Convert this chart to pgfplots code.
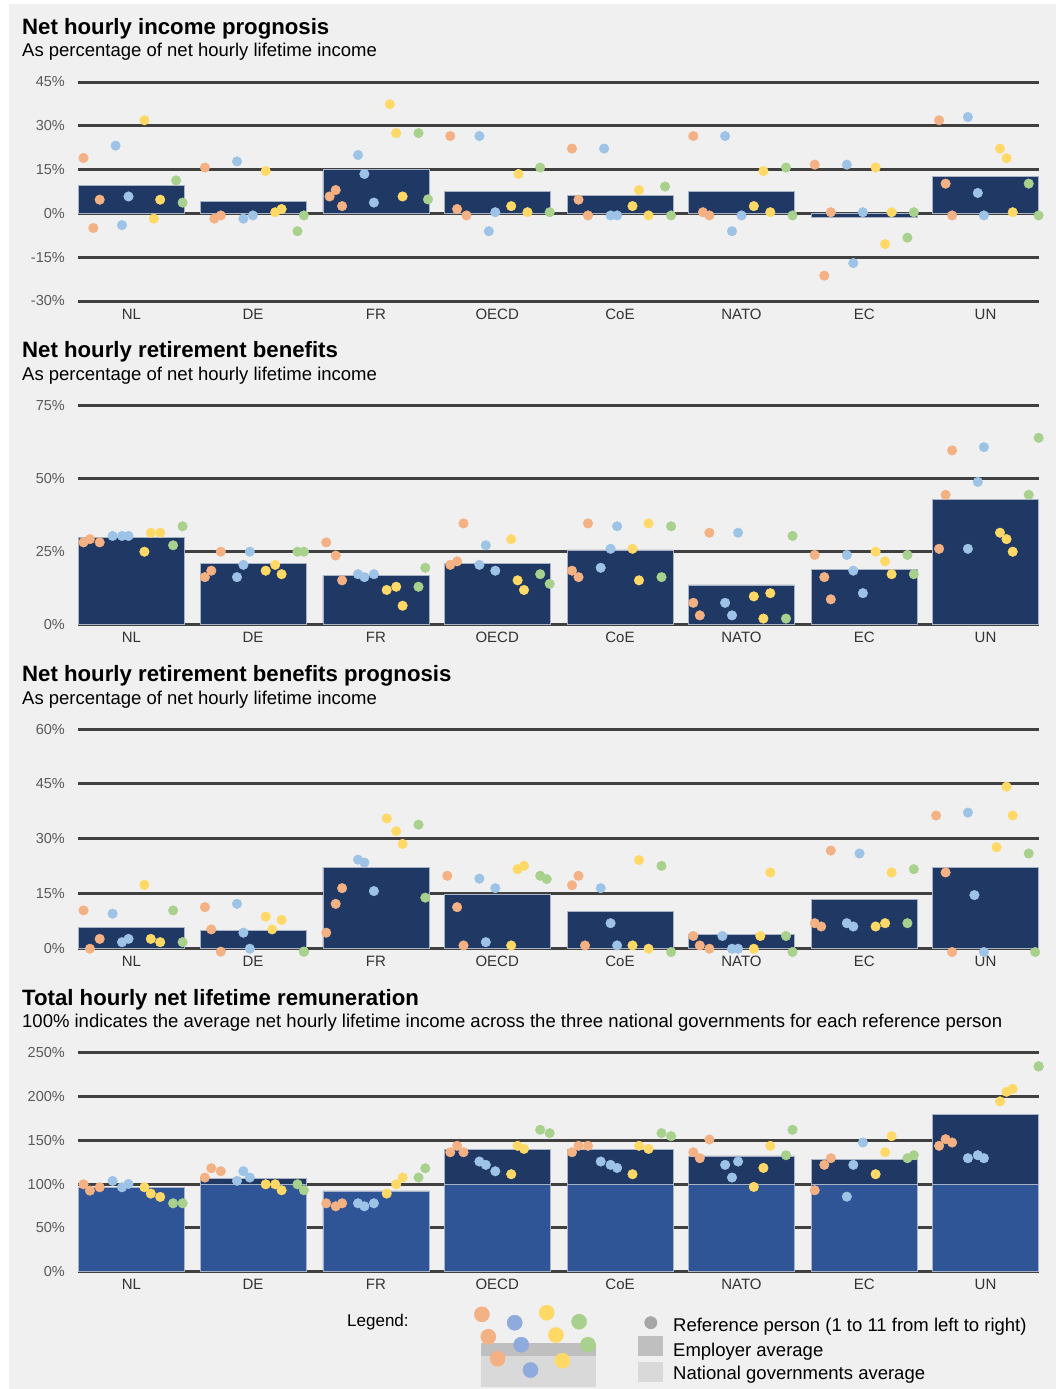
\documentclass[border=0pt]{standalone}
\usepackage{pgfplots}
\pgfplotsset{compat=1.18}
\usepackage{pgfplotstable}
\usepackage{fontspec}
\setmainfont{Liberation Sans}
\definecolor{cO}{HTML}{F4B183}
\definecolor{cB}{HTML}{9DC3E6}
\definecolor{cY}{HTML}{FFD966}
\definecolor{cG}{HTML}{A9D18E}
\definecolor{lB}{HTML}{8FAADC}
\definecolor{navy}{HTML}{203864}
\definecolor{medb}{HTML}{2F5597}
\definecolor{edge}{HTML}{A9B3C6}
\definecolor{gridc}{HTML}{404040}
\definecolor{bg}{HTML}{F0F0F0}
\definecolor{ylab}{HTML}{595959}
\definecolor{xlab}{HTML}{333333}
\definecolor{lgD}{HTML}{BFBFBF}
\definecolor{lgL}{HTML}{D9D9D9}
\definecolor{lgC}{HTML}{A6A6A6}
\newcommand{\ttl}{\fontsize{22.2bp}{26bp}\selectfont\bfseries}
\newcommand{\sub}{\fontsize{18.5bp}{22bp}\selectfont}

\pgfplotstableread[row sep=\\]{
x h\\ 131.5 9.6\\ 253 4.1\\ 375.9 15.1\\ 497.2 7.4\\ 620 6.3\\ 741.5 7.4\\ 864.2 -1.3\\ 985.5 12.8\\
}\bA
\pgfplotstableread[row sep=\\]{
x h\\ 131.5 29.9\\ 253 21.1\\ 375.9 16.8\\ 497.2 21.1\\ 620 25.6\\ 741.5 13.6\\ 864.2 18.9\\ 985.5 42.9\\
}\bB
\pgfplotstableread[row sep=\\]{
x h\\ 131.5 5.7\\ 253 4.8\\ 375.9 22.1\\ 497.2 14.6\\ 620 10.0\\ 741.5 3.8\\ 864.2 13.4\\ 985.5 22.1\\
}\bC
\pgfplotstableread[row sep=\\]{
x h\\ 253 106.7\\ 497.2 139.5\\ 620 139.5\\ 741.5 132.2\\ 864.2 128.4\\ 985.5 179.1\\
}\bDdark
\pgfplotstableread[row sep=\\]{
x h\\ 131.5 96.0\\ 253 100\\ 375.9 92.2\\ 497.2 100\\ 620 100\\ 741.5 100\\ 864.2 100\\ 985.5 100\\
}\bDmed

\pgfplotstableread[row sep=\\]{
x y c\\
83.5 19.0 O\\ 93.3 -5.0 O\\ 99.7 4.7 O\\ 115.6 23.2 B\\ 122.0 -4.0 B\\ 128.5 5.8 B\\ 144.4 31.9 Y\\ 153.8 -1.8 Y\\ 160.2 4.7 Y\\ 176.1 11.3 G\\ 182.6 3.7 G\\
204.9 15.7 O\\ 214.3 -1.8 O\\ 220.8 -0.7 O\\ 237.0 17.8 B\\ 243.4 -1.8 B\\ 252.9 -0.7 B\\ 265.7 14.5 Y\\ 275.2 0.4 Y\\ 281.6 1.5 Y\\ 297.5 -6.1 G\\ 303.9 -0.7 G\\
329.6 5.8 O\\ 335.7 8.0 O\\ 342.1 2.5 O\\ 358.0 20.0 B\\ 364.4 13.5 B\\ 373.9 3.7 B\\ 389.8 37.4 Y\\ 396.2 27.5 Y\\ 402.6 5.8 Y\\ 418.5 27.5 G\\ 428.0 4.8 G\\
450.3 26.5 O\\ 457.1 1.5 O\\ 466.5 -0.7 O\\ 479.4 26.5 B\\ 488.8 -6.1 B\\ 495.3 0.4 B\\ 511.2 2.5 Y\\ 518.5 13.5 Y\\ 527.5 0.4 Y\\ 540.2 15.7 G\\ 549.7 0.4 G\\
572.0 22.2 O\\ 578.5 4.7 O\\ 588.0 -0.7 O\\ 604.1 22.2 B\\ 610.6 -0.7 B\\ 617.1 -0.7 B\\ 632.5 2.5 Y\\ 639.0 8.0 Y\\ 648.5 -0.7 Y\\ 665.0 9.2 G\\ 671.1 -0.7 G\\
693.3 26.5 O\\ 702.9 0.4 O\\ 709.4 -0.7 O\\ 725.1 26.5 B\\ 732.0 -6.1 B\\ 741.5 -0.7 B\\ 753.8 2.5 Y\\ 763.4 14.5 Y\\ 770.3 0.4 Y\\ 786.0 15.7 G\\ 792.5 -0.7 G\\
814.7 16.7 O\\ 824.3 -21.3 O\\ 830.8 0.4 O\\ 846.8 16.7 B\\ 853.3 -17.0 B\\ 862.9 0.4 B\\ 875.6 15.7 Y\\ 885.1 -10.5 Y\\ 891.6 0.4 Y\\ 907.4 -8.3 G\\ 913.8 0.4 G\\
939.1 31.9 O\\ 945.6 10.2 O\\ 952.1 -0.7 O\\ 967.9 33.0 B\\ 977.8 7.0 B\\ 983.9 -0.7 B\\ 1000.0 22.2 Y\\ 1006.5 18.9 Y\\ 1012.7 0.4 Y\\ 1028.7 10.2 G\\ 1038.6 -0.7 G\\
}\tA

\pgfplotstableread[row sep=\\]{
x y c\\
83.5 28.2 O\\ 89.9 29.3 O\\ 99.7 28.2 O\\ 112.6 30.4 B\\ 122.0 30.4 B\\ 128.5 30.4 B\\ 144.4 25.0 Y\\ 150.8 31.5 Y\\ 160.2 31.5 Y\\ 173.1 27.2 G\\ 182.6 33.7 G\\
204.9 16.3 O\\ 211.3 18.5 O\\ 220.8 25.0 O\\ 237.0 16.3 B\\ 243.4 20.5 B\\ 249.8 25.0 B\\ 265.7 18.5 Y\\ 275.2 20.5 Y\\ 281.6 17.3 Y\\ 297.5 25.0 G\\ 303.9 25.0 G\\
326.2 28.2 O\\ 335.7 23.7 O\\ 342.1 15.2 O\\ 358.0 17.3 B\\ 364.4 16.3 B\\ 373.9 17.3 B\\ 386.7 11.9 Y\\ 396.2 13.0 Y\\ 402.6 6.5 Y\\ 418.5 13.0 G\\ 425.3 19.5 G\\
450.3 20.5 O\\ 457.1 21.7 O\\ 463.5 34.7 O\\ 479.4 20.5 B\\ 485.8 27.2 B\\ 495.3 18.5 B\\ 511.2 29.3 Y\\ 517.6 15.2 Y\\ 524.0 11.9 Y\\ 540.2 17.3 G\\ 549.7 14.0 G\\
572.0 18.5 O\\ 578.5 16.3 O\\ 588.0 34.7 O\\ 600.7 19.5 B\\ 610.6 26.0 B\\ 617.1 33.7 B\\ 632.5 26.0 Y\\ 639.0 15.2 Y\\ 648.5 34.7 Y\\ 661.5 16.3 G\\ 671.1 33.7 G\\
693.3 7.5 O\\ 699.8 3.2 O\\ 709.4 31.5 O\\ 725.1 7.5 B\\ 732.0 3.2 B\\ 738.1 31.5 B\\ 753.8 9.7 Y\\ 763.4 2.1 Y\\ 770.3 10.8 Y\\ 786.0 2.1 G\\ 792.5 30.4 G\\
814.7 23.9 O\\ 824.3 16.3 O\\ 830.8 8.7 O\\ 846.8 23.9 B\\ 853.3 18.5 B\\ 862.9 10.8 B\\ 875.6 25.0 Y\\ 885.1 21.7 Y\\ 891.6 17.3 Y\\ 907.4 23.9 G\\ 913.8 17.3 G\\
939.1 26.0 O\\ 945.6 44.5 O\\ 952.1 59.7 O\\ 967.9 26.0 B\\ 977.8 48.9 B\\ 983.9 60.8 B\\ 1000.0 31.5 Y\\ 1006.5 29.3 Y\\ 1012.7 25.0 Y\\ 1028.7 44.5 G\\ 1038.6 64.0 G\\
}\tB

\pgfplotstableread[row sep=\\]{
x y c\\
83.5 10.3 O\\ 89.9 -0.2 O\\ 99.7 2.5 O\\ 112.6 9.4 B\\ 122.0 1.6 B\\ 128.5 2.5 B\\ 144.4 17.3 Y\\ 150.8 2.5 Y\\ 160.2 1.6 Y\\ 173.1 10.3 G\\ 182.6 1.6 G\\
204.9 11.2 O\\ 211.3 5.1 O\\ 220.8 -1.0 O\\ 237.0 12.1 B\\ 243.4 4.2 B\\ 249.8 -0.2 B\\ 265.7 8.6 Y\\ 272.1 5.1 Y\\ 281.6 7.7 Y\\ 303.9 -1.0 G\\ 303.9 -1.0 G\\
326.2 4.2 O\\ 335.7 12.1 O\\ 342.1 16.4 O\\ 358.0 24.2 B\\ 364.4 23.4 B\\ 373.9 15.6 B\\ 386.7 35.5 Y\\ 396.2 32.0 Y\\ 402.6 28.5 Y\\ 418.5 33.8 G\\ 425.3 13.8 G\\
447.3 19.8 O\\ 457.1 11.2 O\\ 463.5 0.7 O\\ 479.4 19.0 B\\ 485.8 1.6 B\\ 495.3 16.4 B\\ 511.2 0.7 Y\\ 517.6 21.6 Y\\ 524.0 22.5 Y\\ 540.2 19.8 G\\ 546.7 18.9 G\\
572.0 17.2 O\\ 578.5 19.8 O\\ 585.0 0.7 O\\ 600.7 16.4 B\\ 610.6 6.8 B\\ 617.1 0.7 B\\ 632.5 0.7 Y\\ 639.0 24.1 Y\\ 648.5 -0.2 Y\\ 661.5 22.5 G\\ 671.1 -1.1 G\\
693.3 3.3 O\\ 699.8 0.7 O\\ 709.4 -0.2 O\\ 722.4 3.3 B\\ 732.0 -0.2 B\\ 738.1 -0.2 B\\ 753.8 -0.2 Y\\ 760.3 3.3 Y\\ 770.3 20.7 Y\\ 786.0 3.3 G\\ 792.5 -1.1 G\\
814.7 6.8 O\\ 821.2 5.9 O\\ 830.8 26.7 O\\ 846.8 6.8 B\\ 853.3 5.9 B\\ 859.5 25.9 B\\ 875.6 5.9 Y\\ 885.1 6.8 Y\\ 891.6 20.7 Y\\ 907.4 6.8 G\\ 913.8 21.6 G\\
936.1 36.3 O\\ 945.6 20.7 O\\ 952.1 -1.1 O\\ 967.9 37.1 B\\ 974.4 14.5 B\\ 983.9 -1.1 B\\ 996.6 27.6 Y\\ 1006.5 44.2 Y\\ 1012.7 36.3 Y\\ 1028.7 25.9 G\\ 1035.2 -1.1 G\\
}\tC

\pgfplotstableread[row sep=\\]{
x y c\\
83.5 99.8 O\\ 89.9 92.6 O\\ 99.7 96.4 O\\ 112.6 103.7 B\\ 122.0 96.4 B\\ 128.5 100.2 B\\ 144.4 96.4 Y\\ 150.8 89.2 Y\\ 160.2 85.4 Y\\ 173.1 78.1 G\\ 182.6 78.1 G\\
204.9 107.5 O\\ 211.3 118.1 O\\ 220.8 114.7 O\\ 237.0 103.7 B\\ 243.4 114.7 B\\ 249.8 107.5 B\\ 265.7 99.8 Y\\ 275.2 99.8 Y\\ 281.6 93.0 Y\\ 297.5 99.8 G\\ 303.9 93.0 G\\
326.2 78.1 O\\ 335.7 74.7 O\\ 342.1 78.1 O\\ 358.0 78.1 B\\ 364.4 74.7 B\\ 373.9 78.1 B\\ 386.7 89.2 Y\\ 396.2 99.8 Y\\ 402.6 107.5 Y\\ 418.5 107.5 G\\ 425.3 118.1 G\\
450.3 136.4 O\\ 457.1 143.7 O\\ 463.5 136.4 O\\ 479.4 125.8 B\\ 485.8 122.0 B\\ 495.3 114.7 B\\ 511.2 111.3 Y\\ 517.6 143.7 Y\\ 524.0 140.2 Y\\ 540.2 162.0 G\\ 549.7 158.2 G\\
572.0 136.4 O\\ 578.5 143.7 O\\ 588.0 143.7 O\\ 600.7 125.8 B\\ 610.6 122.0 B\\ 617.1 118.5 B\\ 632.5 111.3 Y\\ 639.0 143.7 Y\\ 648.5 140.2 Y\\ 661.5 158.2 G\\ 671.1 154.7 G\\
693.3 136.4 O\\ 699.8 129.6 O\\ 709.4 150.9 O\\ 725.1 122.0 B\\ 732.0 107.5 B\\ 738.1 125.8 B\\ 753.8 96.8 Y\\ 763.4 118.5 Y\\ 770.3 143.7 Y\\ 786.0 133.0 G\\ 792.5 162.0 G\\
814.7 93.0 O\\ 824.3 122.0 O\\ 830.8 129.6 O\\ 846.8 85.7 B\\ 853.3 122.0 B\\ 862.9 147.5 B\\ 875.6 111.3 Y\\ 885.1 136.4 Y\\ 891.6 154.7 Y\\ 907.4 129.6 G\\ 913.8 133.0 G\\
939.1 143.7 O\\ 945.6 151.3 O\\ 952.1 147.5 O\\ 967.9 129.6 B\\ 977.8 133.0 B\\ 983.9 129.6 B\\ 1000.0 194.4 Y\\ 1006.5 205.4 Y\\ 1012.7 208.8 Y\\ 1038.6 234.4 G\\ 1038.6 234.4 G\\
}\tD

\pgfplotstableread[row sep=\\]{
x y c\\
481.9 1314.3 O\\ 488.3 1336.7 O\\ 497.6 1358.7 O\\ 514.7 1322.7 B\\ 521.2 1344.7 B\\ 530.5 1370.0 B\\ 546.7 1312.7 Y\\ 555.9 1335.0 Y\\ 562.4 1360.7 Y\\ 579.1 1321.7 G\\ 587.9 1344.7 G\\
}\tL

\pgfplotsset{
  panel/.style={anchor=south west, scale only axis, width=961bp, height=219bp,
    xmin=78, xmax=1039, clip=false,
    axis line style={draw=none}, major tick length=0pt, tick style={draw=none},
    ymajorgrids, major grid style={line width=3bp, color=gridc},
    xtick={131.5,253,375.9,497.2,620,741.5,864.2,985.5},
    xticklabels={NL,DE,FR,OECD,CoE,NATO,EC,UN},
    xticklabel style={anchor=base, inner sep=0pt, yshift=-18bp, text=xlab,
      font=\fontsize{15bp}{17bp}\selectfont},
    yticklabel style={anchor=east, inner sep=0pt, xshift=-13bp, text=ylab,
      font=\fontsize{14.5bp}{17bp}\selectfont}},
  dots/.style={scatter, only marks, scatter src=explicit symbolic, mark size=4.8bp,
    scatter/classes={O={mark=*,cO}, B={mark=*,cB}, Y={mark=*,cY}, G={mark=*,cG}}},
  bars/.style={ybar, bar width=106, bar shift=0pt, fill=navy, draw=edge, line width=0.8bp},
}

\begin{document}
\begin{tikzpicture}
\fill[white] (0bp,0bp) rectangle (1056bp,-1389bp);
\fill[bg] (9bp,-4bp) rectangle (1056bp,-1389bp);

% Panel 1
\node[anchor=base west, inner sep=0pt] at (22bp,-34bp) {\ttl Net hourly income prognosis};
\node[anchor=base west, inner sep=0pt] at (22bp,-56bp) {\sub As percentage of net hourly lifetime income};
\begin{axis}[panel, at={(78bp,-301bp)}, ymin=-30, ymax=45,
  ytick={-30,-15,0,15,30,45}, yticklabels={-30\%,-15\%,0\%,15\%,30\%,45\%}]
\addplot[bars] table[x=x,y=h] {\bA};
\addplot[dots] table[x=x,y=y,meta=c] {\tA};
\end{axis}

% Panel 2
\node[anchor=base west, inner sep=0pt] at (22bp,-357bp) {\ttl Net hourly retirement benefits};
\node[anchor=base west, inner sep=0pt] at (22bp,-380bp) {\sub As percentage of net hourly lifetime income};
\begin{axis}[panel, at={(78bp,-624.7bp)}, ymin=0, ymax=75,
  ytick={0,25,50,75}, yticklabels={0\%,25\%,50\%,75\%}]
\addplot[bars] table[x=x,y=h] {\bB};
\addplot[dots] table[x=x,y=y,meta=c] {\tB};
\end{axis}

% Panel 3
\node[anchor=base west, inner sep=0pt] at (22bp,-681.7bp) {\ttl Net hourly retirement benefits prognosis};
\node[anchor=base west, inner sep=0pt] at (22bp,-704bp) {\sub As percentage of net hourly lifetime income};
\begin{axis}[panel, at={(78bp,-948bp)}, ymin=0, ymax=60,
  ytick={0,15,30,45,60}, yticklabels={0\%,15\%,30\%,45\%,60\%}]
\addplot[bars] table[x=x,y=h] {\bC};
\addplot[dots] table[x=x,y=y,meta=c] {\tC};
\end{axis}

% Panel 4
\node[anchor=base west, inner sep=0pt] at (22bp,-1005.7bp) {\ttl Total hourly net lifetime remuneration};
\node[anchor=base west, inner sep=0pt] at (22bp,-1027.7bp) {\sub 100\% indicates the average net hourly lifetime income across the three national governments for each reference person};
\begin{axis}[panel, at={(78bp,-1271.7bp)}, ymin=0, ymax=250,
  ytick={0,50,100,150,200,250}, yticklabels={0\%,50\%,100\%,150\%,200\%,250\%}]
\addplot[bars] table[x=x,y=h] {\bDdark};
\addplot[bars, fill=medb] table[x=x,y=h] {\bDmed};
\addplot[dots] table[x=x,y=y,meta=c] {\tD};
\end{axis}

% Legend
\begin{axis}[at={(330bp,-1389bp)}, anchor=south west, scale only axis,
  width=726bp, height=94bp, xmin=330, xmax=1056, ymin=1295, ymax=1389,
  y dir=reverse, hide axis, clip=false]
\addplot[fill=lgL, draw=none] coordinates {(481.4,1343.3) (596.2,1343.3) (596.2,1386.7) (481.4,1386.7)} -- cycle;
\addplot[fill=lgD, draw=none] coordinates {(481.4,1343.3) (596.2,1343.3) (596.2,1356) (481.4,1356)} -- cycle;
\addplot[scatter, only marks, scatter src=explicit symbolic, mark size=7.6bp,
  scatter/classes={O={mark=*,cO}, B={mark=*,lB}, Y={mark=*,cY}, G={mark=*,cG}}]
  table[x=x,y=y,meta=c] {\tL};
\addplot[only marks, mark=*, mark size=6.2bp, color=lgC] coordinates {(650.8,1322.7)};
\addplot[fill=lgD, draw=none] coordinates {(637.9,1335.7) (663.3,1335.7) (663.3,1355.7) (637.9,1355.7)} -- cycle;
\addplot[fill=lgL, draw=none] coordinates {(637.9,1361.7) (663.3,1361.7) (663.3,1381.7) (637.9,1381.7)} -- cycle;
\node[anchor=base west, inner sep=0pt, font=\fontsize{17bp}{20bp}\selectfont] at (axis cs:347,1326.7) {Legend:};
\node[anchor=base west, inner sep=0pt, font=\sub] at (axis cs:673,1331.7) {Reference person (1 to 11 from left to right)};
\node[anchor=base west, inner sep=0pt, font=\sub] at (axis cs:673,1356) {Employer average};
\node[anchor=base west, inner sep=0pt, font=\sub] at (axis cs:673,1379.5) {National governments average};
\end{axis}
\end{tikzpicture}
\end{document}
